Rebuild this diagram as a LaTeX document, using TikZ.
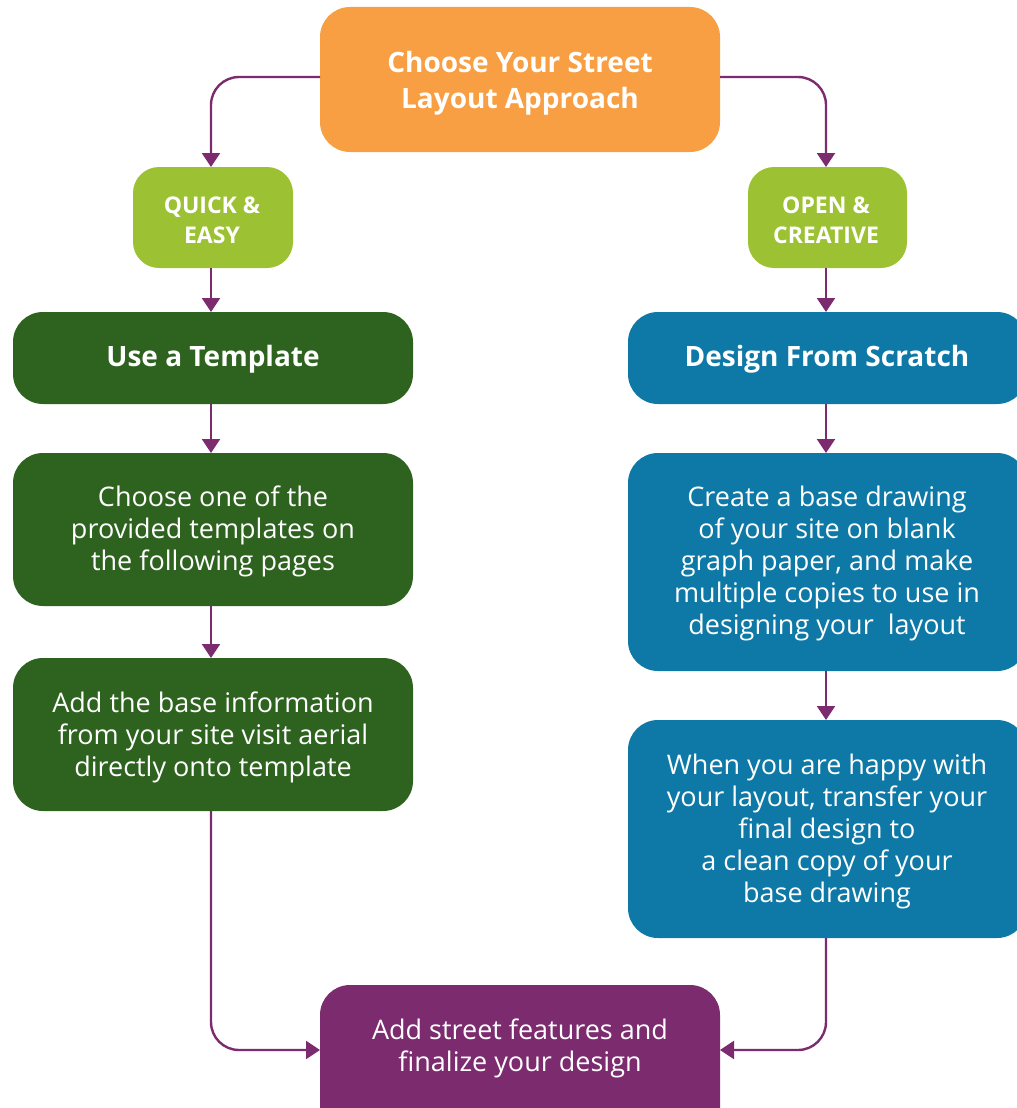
\documentclass[tikz,border=0pt]{standalone}
\usepackage{fontspec}
\setmainfont{Open Sans}
\usetikzlibrary{arrows.meta}
\definecolor{corange}{HTML}{F89E43}
\definecolor{clime}{HTML}{9CC233}
\definecolor{cgreen}{HTML}{2E631F}
\definecolor{cblue}{HTML}{0E79A6}
\definecolor{cpurple}{HTML}{7B2B6E}
\begin{document}
\begin{tikzpicture}[x=1pt,y=-1pt,
  box/.style={text=white,align=center,font=\fontsize{27}{32}\selectfont},
  lbl/.style={text=white,align=center,font=\fontsize{23}{30}\selectfont\bfseries},
  head/.style={text=white,align=center,font=\fontsize{28}{36}\selectfont\bfseries},
  conn/.style={draw=cpurple,line width=2.4pt,rounded corners=28pt,-{Triangle[width=18pt,length=14pt]}}]
\useasboundingbox (0,0) rectangle (1017,1108);
\clip (0,0) rectangle (1017,1108);
% boxes
\fill[corange,rounded corners=30pt] (320,7) rectangle (720,152);
\node[head] (top) at (520,83) {Choose Your Street\\Layout Approach};
\coordinate (topL) at (320,77);
\coordinate (topR) at (720,77);

\fill[clime,rounded corners=26pt] (133,167) rectangle (293,268);
\node[lbl] (qe) at (212,220) {QUICK \&\\EASY};
\fill[clime,rounded corners=26pt] (748,167) rectangle (907,268);
\node[lbl] (oc) at (826,220) {OPEN \&\\CREATIVE};

\fill[cgreen,rounded corners=30pt] (13,312) rectangle (413,404);
\node[head] (tpl) at (213,359) {Use a Template};
\fill[cgreen,rounded corners=30pt] (13,453) rectangle (413,606);
\node[box] (choose) at (213,531) {Choose one of the\\provided templates on\\the following pages};
\fill[cgreen,rounded corners=30pt] (13,658) rectangle (413,811);
\node[box] (addbase) at (213,737) {Add the base information\\from your site visit aerial\\directly onto template};

\fill[cblue,rounded corners=30pt] (628,312) rectangle (1027,404);
\node[head] (scratch) at (827,359) {Design From Scratch};
\fill[cblue,rounded corners=30pt] (628,453) rectangle (1027,671);
\node[box] (create) at (827,563) {Create a base drawing\\of your site on blank\\graph paper, and make\\multiple copies to use in\\designing your\ \ layout};
\fill[cblue,rounded corners=30pt] (628,720) rectangle (1027,938);
\node[box] (happy) at (827,831) {When you are happy with\\your layout, transfer your\\final design to\\a clean copy of your\\base drawing};

\fill[cpurple,rounded corners=30pt] (320,985) rectangle (720,1140);
\node[box] (final) at (520,1048) {Add street features and\\finalize your design};

% named anchor coordinates
\coordinate (qeT) at (211,167);
\coordinate (ocT) at (826,167);
\coordinate (qeB) at (211,268);
\coordinate (ocB) at (826,268);
\coordinate (tplT) at (211,312);
\coordinate (scrT) at (826,312);
\coordinate (tplB) at (211,404);
\coordinate (scrB) at (826,404);
\coordinate (chT) at (211,453);
\coordinate (crT) at (826,453);
\coordinate (chB) at (211,606);
\coordinate (crB) at (826,671);
\coordinate (abT) at (211,658);
\coordinate (hpT) at (826,720);
\coordinate (abB) at (211,811);
\coordinate (hpB) at (826,938);
\coordinate (fL) at (320,1050);
\coordinate (fR) at (720,1050);

% connectors
\draw[conn] (topL) -| (qeT);
\draw[conn] (topR) -| (ocT);
\draw[conn] (qeB) -- (tplT);
\draw[conn] (ocB) -- (scrT);
\draw[conn] (tplB) -- (chT);
\draw[conn] (scrB) -- (crT);
\draw[conn] (chB) -- (abT);
\draw[conn] (crB) -- (hpT);
\draw[conn] (abB) |- (fL);
\draw[conn] (hpB) |- (fR);
\end{tikzpicture}
\end{document}
